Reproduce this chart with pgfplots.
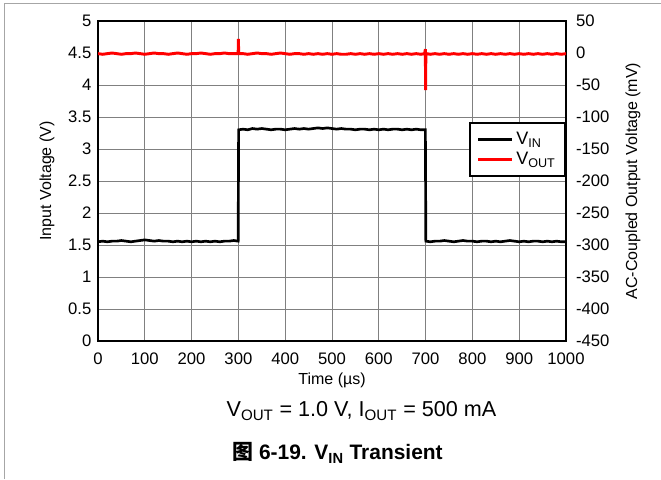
\documentclass[border=0pt]{standalone}
\usepackage{fontspec}
\setmainfont{Liberation Sans}
\newfontfamily\cjk{Noto Sans CJK SC}
\usepackage{pgfplots}
\pgfplotsset{compat=1.18}
\begin{document}
\begin{tikzpicture}
\useasboundingbox (0,0) rectangle (495.75pt,359.25pt);
\draw[gray!70, line width=0.75pt] (3.4pt,0) -- (3.4pt,356.6pt) -- (495.75pt,356.6pt);
\begin{axis}[
  at={(73.5pt,103.5pt)}, anchor=south west, scale only axis,
  width=351pt, height=240pt,
  xmin=0, xmax=1000, ymin=0, ymax=5,
  xtick={0,100,...,1000}, ytick={0,0.5,...,5},
  grid=major, major grid style={gray, line width=0.6pt},
  major tick length=0pt,
  axis line style={line width=1.9pt},
  /pgf/number format/assume math mode=true,
  /pgf/number format/1000 sep={},
  tick label style={font=\fontsize{12.5}{14}\selectfont},
  xticklabel style={yshift=-5pt},
  yticklabel style={xshift=-1.5pt},
  label style={font=\fontsize{12}{14}\selectfont},
  xlabel={Time (µs)},
  ylabel={Input Voltage (V)},
  xlabel style={at={(axis description cs:0.5,-0.122)}, anchor=center},
  ylabel style={at={(axis description cs:-0.109,0.5)}, anchor=center},
  legend style={at={(1,0.684)}, anchor=north east, draw=black, line width=1.6pt,
    font=\fontsize{13.5}{16}\selectfont, inner xsep=5pt, inner ysep=5pt,
    row sep=0pt},
  legend cell align=left,
  legend image code/.code={\draw[#1] (0cm,0cm) -- (0.9cm,0cm);},
]
\addplot[black, line width=2pt] coordinates {
(0,1.55)(10,1.56)(20,1.55)(30,1.56)(40,1.56)(50,1.57)(60,1.56)(70,1.55)(80,1.56)(90,1.57)
(100,1.58)(110,1.57)(120,1.56)(130,1.57)(140,1.56)(150,1.56)(160,1.55)(170,1.56)(180,1.55)(190,1.56)
(200,1.55)(210,1.56)(220,1.55)(230,1.56)(240,1.55)(250,1.56)(260,1.55)(270,1.56)(280,1.56)(290,1.57)
(299.5,1.56)(300.5,3.30)(310,3.31)(320,3.30)(330,3.32)(340,3.31)(350,3.32)(360,3.31)(370,3.30)(380,3.31)
(390,3.31)(400,3.30)(410,3.31)(420,3.32)(430,3.31)(440,3.32)(450,3.31)(460,3.32)(470,3.33)(480,3.32)
(490,3.33)(500,3.32)(510,3.31)(520,3.32)(530,3.31)(540,3.31)(550,3.30)(560,3.31)(570,3.31)(580,3.30)
(590,3.31)(600,3.30)(610,3.31)(620,3.30)(630,3.31)(640,3.31)(650,3.30)(660,3.31)(670,3.30)(680,3.31)
(690,3.30)(699.5,3.30)(700.5,1.56)(710,1.55)(720,1.56)(730,1.56)(740,1.57)(750,1.56)(760,1.55)(770,1.56)
(780,1.57)(790,1.56)(800,1.56)(810,1.55)(820,1.56)(830,1.56)(840,1.55)(850,1.56)(860,1.55)(870,1.56)
(880,1.57)(890,1.56)(900,1.55)(910,1.56)(920,1.55)(930,1.56)(940,1.56)(950,1.55)(960,1.56)(970,1.55)
(980,1.56)(990,1.55)(1000,1.55)
};
\addlegendentry{V\textsubscript{IN}}
\addlegendimage{red, line width=2pt}
\addlegendentry{V\textsubscript{OUT}}
\end{axis}
\begin{axis}[
  at={(73.5pt,103.5pt)}, anchor=south west, scale only axis,
  width=351pt, height=240pt,
  xmin=0, xmax=1000, ymin=-450, ymax=50,
  axis x line=none, axis y line*=right,
  ytick={-450,-400,...,50},
  major tick length=0pt,
  axis line style={line width=1.9pt},
  /pgf/number format/assume math mode=true,
  tick label style={font=\fontsize{12.5}{14}\selectfont},
  yticklabel style={xshift=4pt},
  label style={font=\fontsize{12}{14}\selectfont},
  ylabel={AC-Coupled Output Voltage (mV)},
  ylabel style={at={(axis description cs:1.1432,0.5)}, anchor=center, rotate=0},
]
\addplot[red, line width=2.2pt] coordinates {
(0,-1)(10,-2)(20,-1)(30,0)(40,-1)(50,-2)(60,-1)(70,-1)(80,0)(90,-1)
(100,-2)(110,-1)(120,0)(130,-1)(140,-1)(150,-2)(160,-1)(170,0)(180,-1)(190,-2)
(200,-1)(210,-1)(220,0)(230,-1)(240,-2)(250,-1)(260,-1)(270,0)(280,-1)(290,-1)
(298,-1)(299.5,0)(300,22)(300.5,1)(302,-1)(310,-1)(320,-2)(330,-1)(340,0)(350,-1)
(360,-1)(370,-2)(380,-1)(390,0)(400,-1)(410,-2)(420,-1)(430,-1)(440,-2)(450,-1)
(460,-2)(470,-1)(480,-2)(490,-1)(500,-2)(510,-1)(520,-2)(530,-2)(540,-1)(550,-2)
(560,-1)(570,-2)(580,-1)(590,-2)(600,-1)(610,-2)(620,-1)(630,-2)(640,-1)(650,-2)
(660,-1)(670,-2)(680,-1)(690,-2)(698,-1)(699.5,6)(700,-58)(700.5,-4)(702,-1)(710,-2)
(720,-1)(730,-2)(740,-1)(750,-2)(760,-1)(770,-2)(780,-1)(790,-2)(800,-1)(810,-2)
(820,-1)(830,-2)(840,-1)(850,-2)(860,-1)(870,-2)(880,-1)(890,-2)(900,-1)(910,-2)
(920,-1)(930,-2)(940,-1)(950,-2)(960,-1)(970,-2)(980,-1)(990,-2)(1000,-1)
};
\end{axis}
\node[font=\fontsize{16.2}{19}\selectfont] at (271.1pt,51pt) {V\textsubscript{OUT} = 1.0 V, I\textsubscript{OUT} = 500 mA};
\node[font=\fontsize{15.7}{19}\selectfont\bfseries] at (253.1pt,19.5pt) {{\cjk 图} 6-19. V\textsubscript{IN} Transient};
\end{tikzpicture}
\end{document}
